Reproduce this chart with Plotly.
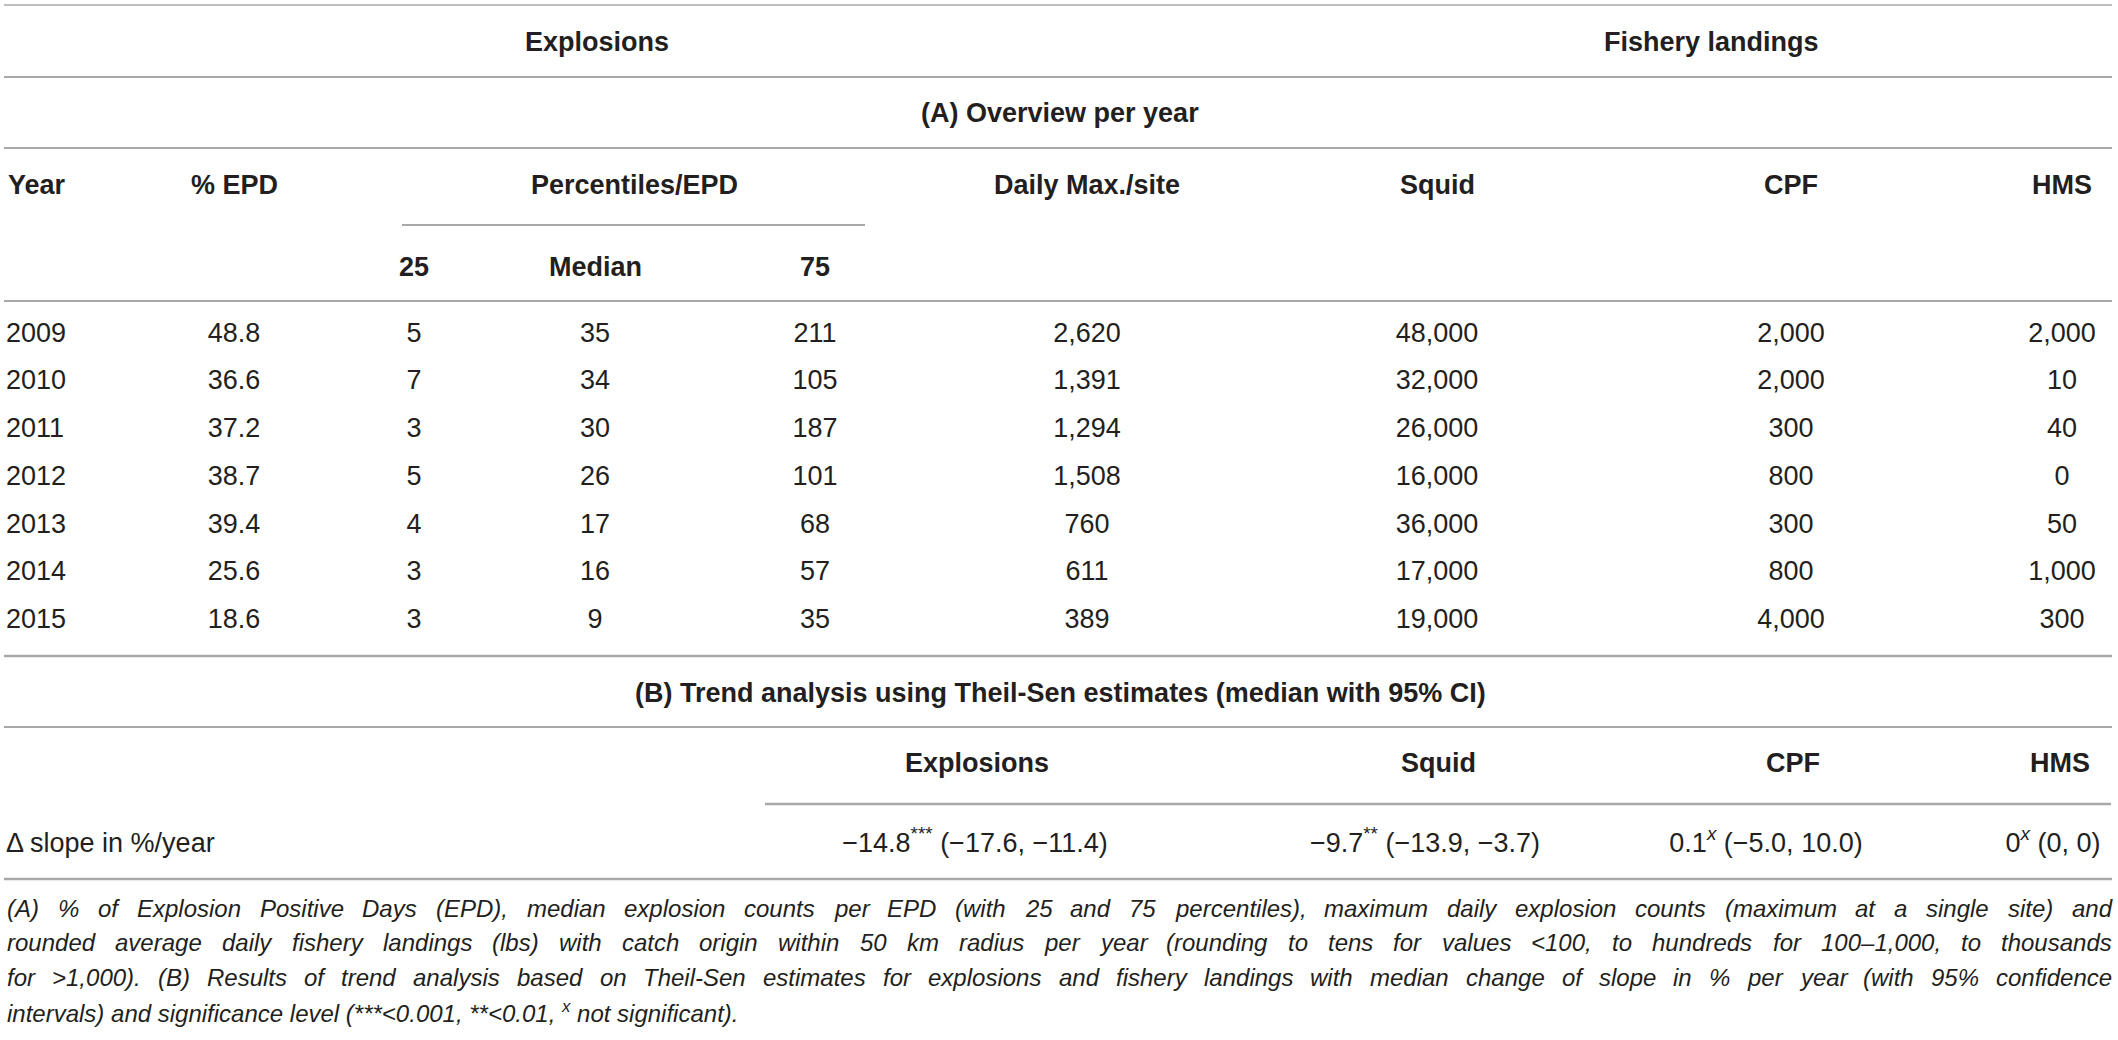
import plotly.graph_objects as go

# ---------------- data ----------------
years = ["2009", "2010", "2011", "2012", "2013", "2014", "2015"]
pct_epd = [48.8, 36.6, 37.2, 38.7, 39.4, 25.6, 18.6]
p25 = [5, 7, 3, 5, 4, 3, 3]
median = [35, 34, 30, 26, 17, 16, 9]
p75 = [211, 105, 187, 101, 68, 57, 35]
daily_max = [2620, 1391, 1294, 1508, 760, 611, 389]
squid = [48000, 32000, 26000, 16000, 36000, 17000, 19000]
cpf = [2000, 2000, 300, 800, 300, 800, 4000]
hms = [2000, 10, 40, 0, 50, 1000, 300]

trend_groups = ["Explosions", "Squid", "CPF", "HMS"]
trend_median = [-14.8, -9.7, 0.1, 0]
trend_sig = ["***", "**", "x", "x"]
trend_lo = [-17.6, -13.9, -5.0, 0]
trend_hi = [-11.4, -3.7, 10.0, 0]
trend_label = "Δ slope in %/year"

group_headers = ["Explosions", "Fishery landings"]
section_a = "(A) Overview per year"
section_b = "(B) Trend analysis using Theil-Sen estimates (median with 95% CI)"
col_headers = ["Year", "% EPD", "Percentiles/EPD", "Daily Max./site", "Squid", "CPF", "HMS"]
sub_headers = ["25", "Median", "75"]

caption_lines = [
    "(A) % of Explosion Positive Days (EPD), median explosion counts per EPD (with 25 and 75 percentiles), maximum daily explosion counts (maximum at a single site) and",
    "rounded average daily fishery landings (lbs) with catch origin within 50 km radius per year (rounding to tens for values <100, to hundreds for 100–1,000, to thousands",
    "for >1,000). (B) Results of trend analysis based on Theil-Sen estimates for explosions and fishery landings with median change of slope in % per year (with 95% confidence",
]
caption_last = "intervals) and significance level (***<0.001, **<0.01, <sup>x</sup> not significant)."

# ---------------- layout constants (pixels) ----------------
W, H = 2118, 1040
FONT = "Liberation Sans, Arial, Helvetica, sans-serif"
TXT = "#231f20"
LINE = "#a8a8a8"
BODY = 27
HEAD = 27
CAP = 24

X_YEAR = 6
X_EPD, X_P25, X_MED, X_P75 = 234, 414, 595, 815
X_DAILY, X_SQUID, X_CPF, X_HMS = 1087, 1437, 1791, 2062
X_PCT_HDR = 634
X_EXPL_GRP, X_FISH_GRP = 597, 1711
X_CENTER = 1060
X_TREND_HDR = [977, 1438, 1793, 2060]
X_TREND_VAL = [975, 1425, 1766, 2053]
X_CAP_L, X_CAP_R = 5, 2110

Y_GROUP, Y_SECA, Y_COLHDR, Y_SUBHDR = 42, 113, 185, 267
Y_ROW0, ROW_STEP = 335, 47.7
Y_SECB, Y_TREND_HDR, Y_TREND = 693, 763, 845
Y_CAP0, CAP_STEP = 908, 34.7

row_y = [Y_ROW0 + i * ROW_STEP for i in range(len(years))]

# Arial / Liberation Sans advance widths (per 1000 em), used to justify the caption
_AW = {" ": 278, "!": 278, "%": 889, "(": 333, ")": 333, "*": 389, ",": 278, "-": 333,
       ".": 278, "/": 278, ":": 278, ";": 278, "<": 584, ">": 584, "–": 556, "−": 584}
for c in "0123456789":
    _AW[c] = 556
_AW.update(dict(zip("ABCDEFGHIJKLMNOPQRSTUVWXYZ",
                    [667, 667, 722, 722, 667, 611, 778, 722, 278, 500, 667, 556, 833,
                     722, 778, 667, 778, 722, 667, 611, 722, 667, 944, 667, 667, 611])))
_AW.update(dict(zip("abcdefghijklmnopqrstuvwxyz",
                    [556, 556, 500, 556, 556, 278, 556, 556, 222, 222, 500, 222, 833,
                     556, 556, 556, 556, 333, 500, 278, 556, 500, 722, 500, 500, 500])))


def text_width(s, size):
    return sum(_AW.get(c, 556) for c in s) * size / 1000.0


def fmt_int(v):
    return f"{v:,}"


def fmt_num(v):
    s = "0" if v == 0 else f"{v:.1f}"
    return s.replace("-", "−")


def sig(s):
    return f"<sup><i>{s}</i></sup>" if s == "x" else f"<sup>{s}</sup>"


fig = go.Figure()


def text_col(x, ys, texts, pos="middle center", size=BODY):
    fig.add_trace(go.Scatter(
        x=[x] * len(ys), y=ys, text=texts, mode="text",
        textposition=pos, hoverinfo="skip",
        textfont=dict(family=FONT, size=size, color=TXT),
    ))


# data cells
text_col(X_YEAR, row_y, years, pos="middle right")
text_col(X_EPD, row_y, [f"{v:.1f}" for v in pct_epd])
text_col(X_P25, row_y, [str(v) for v in p25])
text_col(X_MED, row_y, [str(v) for v in median])
text_col(X_P75, row_y, [str(v) for v in p75])
text_col(X_DAILY, row_y, [fmt_int(v) for v in daily_max])
text_col(X_SQUID, row_y, [fmt_int(v) for v in squid])
text_col(X_CPF, row_y, [fmt_int(v) for v in cpf])
text_col(X_HMS, row_y, [fmt_int(v) for v in hms])

# trend row
trend_texts = [
    f"{fmt_num(m)}{sig(s)} ({fmt_num(lo)}, {fmt_num(hi)})"
    for m, s, lo, hi in zip(trend_median, trend_sig, trend_lo, trend_hi)
]
text_col(X_YEAR, [Y_TREND], [trend_label], pos="middle right")
text_col(None, [], [])  # placeholder removed below
fig.data = fig.data[:-1]
fig.add_trace(go.Scatter(
    x=X_TREND_VAL, y=[Y_TREND] * len(trend_texts), text=trend_texts, mode="text",
    textposition="middle center", hoverinfo="skip",
    textfont=dict(family=FONT, size=BODY, color=TXT),
))

# headers
ann = []


def head(text, x, y, anchor="center", bold=True, size=HEAD, italic=False):
    t = f"<b>{text}</b>" if bold else text
    if italic:
        t = f"<i>{t}</i>"
    ann.append(dict(text=t, x=x, y=y, xref="x", yref="y", xanchor=anchor,
                    yanchor="middle", showarrow=False,
                    font=dict(family=FONT, size=size, color=TXT)))


head(group_headers[0], X_EXPL_GRP, Y_GROUP)
head(group_headers[1], X_FISH_GRP, Y_GROUP)
head(section_a, X_CENTER, Y_SECA)
hdr_x = [X_YEAR, X_EPD, X_PCT_HDR, X_DAILY, X_SQUID, X_CPF, X_HMS]
for i, (t, x) in enumerate(zip(col_headers, hdr_x)):
    head(t, x, Y_COLHDR, anchor="left" if i == 0 else "center")
for t, x in zip(sub_headers, [X_P25, X_MED, X_P75]):
    head(t, x, Y_SUBHDR)
head(section_b, X_CENTER, Y_SECB)
for t, x in zip(trend_groups, X_TREND_HDR):
    head(t, x, Y_TREND_HDR)

# caption: justified lines (word by word), last line left aligned
for i, line in enumerate(caption_lines):
    words = line.split(" ")
    widths = [text_width(w, CAP) for w in words]
    gap = (X_CAP_R - X_CAP_L - sum(widths)) / (len(words) - 1)
    x = X_CAP_L
    y = Y_CAP0 + i * CAP_STEP
    for w, wd in zip(words, widths):
        head(w, x, y, anchor="left", bold=False, size=CAP, italic=True)
        x += wd + gap
head(caption_last, X_CAP_L, Y_CAP0 + len(caption_lines) * CAP_STEP,
     anchor="left", bold=False, size=CAP, italic=True)

# rules
rules = [
    (4, 2112, 5, 1.5), (4, 2112, 77, 2), (4, 2112, 148, 2),
    (402, 865, 225, 2), (4, 2112, 301, 2), (4, 2112, 656, 2.5),
    (4, 2112, 727, 2), (765, 2111, 804, 2.5), (4, 2112, 879, 2.5),
]
shapes = [dict(type="line", xref="x", yref="y", x0=a, x1=b, y0=y, y1=y,
               line=dict(color=LINE, width=w)) for a, b, y, w in rules]

fig.update_layout(
    width=W, height=H, margin=dict(l=0, r=0, t=0, b=0),
    paper_bgcolor="white", plot_bgcolor="white", showlegend=False,
    xaxis=dict(range=[0, W], visible=False, fixedrange=True),
    yaxis=dict(range=[H, 0], visible=False, fixedrange=True),
    annotations=ann, shapes=shapes,
)

fig.write_html("out.html", config={"displayModeBar": False},
               post_script="document.body.style.margin='0';")
